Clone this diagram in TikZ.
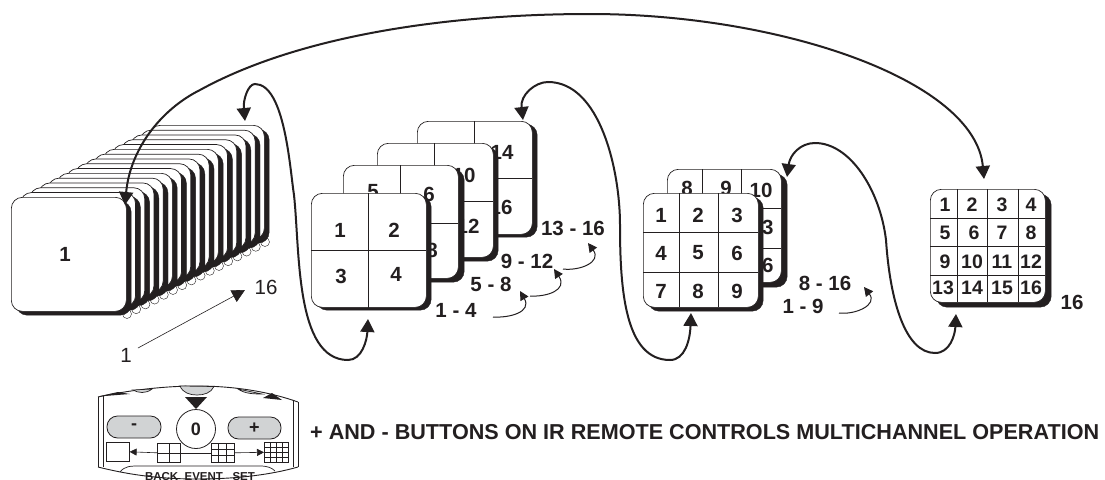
\documentclass[tikz,border=0pt]{standalone}
\usepackage{fontspec}
\setmainfont{Liberation Sans}
\usetikzlibrary{arrows.meta}
\definecolor{ink}{HTML}{231F20}
\definecolor{btn}{HTML}{D1D3D4}
\tikzset{
  cardface/.style={draw=ink,line width=.7pt,fill=white,rounded corners=11pt,inner sep=0pt,anchor=north west},
  cardshade/.style={draw=ink,fill=ink,line width=.4pt,rounded corners=11pt,inner sep=0pt,anchor=north west},
  grid line/.style={draw=ink,line width=.8pt},
  num/.style={font=\bfseries\fontsize{20.5}{24}\selectfont,text=ink,inner sep=0pt},
  smallnum/.style={font=\bfseries\fontsize{19.5}{22}\selectfont,text=ink,inner sep=0pt},
  plainnum/.style={font=\fontsize{20.5}{24}\selectfont,text=ink,inner sep=0pt},
  loopline/.style={draw=ink,line width=2pt,{Triangle[length=13pt,width=14pt]}-{Triangle[length=13pt,width=14pt]}},
  stepline/.style={draw=ink,line width=1pt,-{Triangle[length=9pt,width=9pt]}},
  scallop/.style={draw=ink,line width=.4pt,fill=white,circle,minimum size=9pt,inner sep=0pt},
  rbtn/.style={draw=ink,line width=.8pt,fill=btn,rounded corners=10.5pt,inner sep=0pt},
  rwin/.style={draw=ink,line width=.6pt,fill=white,inner sep=0pt,anchor=north west},
  rline/.style={draw=ink,line width=.7pt},
}
\newcommand{\Card}[7]{%
  \node[cardshade,minimum width=#4pt,minimum height=#5pt] (#1shade) at (#2+#6,#3+#7) {};
  \node[cardface,minimum width=#4pt,minimum height=#5pt] (#1) at (#2,#3) {};}
\begin{document}
\begin{tikzpicture}[x=1pt,y=-1pt]
\useasboundingbox (0,0) rectangle (1105,479);
\fill[white] (0,0) rectangle (1105,479);

% ---- stack of 16
\foreach \i in {15,14,...,0}{
  \pgfmathsetmacro\sx{11+9.2*\i}
  \pgfmathsetmacro\sy{197-4.8*\i}
  \node[scallop] (sc\i) at (\sx+116,\sy+117) {};
  \Card{st\i}{\sx}{\sy}{115}{114}{5}{4}
}
\node[num] (st1label) at (65,254) {1};

% ---- four-way cards
\Card{qd}{417}{121}{115}{113}{5}{3}
\draw[grid line] (474,121) -- (474,178) (474,178) -- (532,178);
\node[num] (n14) at (502,152) {14};
\node[num] (n16) at (501,207) {16};
\Card{qc}{377}{143}{116}{114}{5}{4}
\draw[grid line] (434,143) -- (434,201) (434,201) -- (493,201);
\node[num] (n10) at (464,175) {10};
\node[num] (n12) at (468,226) {12};
\Card{qb}{343}{165}{115}{113}{6}{4}
\draw[grid line] (400,165) -- (400,223) (400,223) -- (458,223);
\node[num] (n5) at (373,192) {5};
\node[num] (n6) at (429,194) {6};
\node[num] (n8) at (432,250) {8};
\Card{qa}{311}{193}{115}{114}{5}{3}
\draw[grid line] (368,193) -- (368,310) (311,250) -- (426,250);
\foreach \n/\x/\y in {1/340/230,2/394/230,3/341/276,4/396/274}
  \node[num] (qa\n) at (\x,\y) {\n};

% ---- nine-way cards
\Card{na}{667}{169}{114}{113}{6}{5}
\draw[grid line] (702,169) -- (702,195) (741,169) -- (741,195) (758,208) -- (781,208) (758,248) -- (781,248);
\node[num] (nb8) at (687,188) {8};
\node[num] (nb9) at (726,188) {9};
\node[num] (nb10) at (761,190) {10};
\node[num] (nb13) at (762,227) {13};
\node[num] (nb16) at (762,265) {16};
\Card{nf}{643}{193}{115}{114}{5}{4}
\draw[grid line] (679,193) -- (679,307) (718,193) -- (718,307) (643,232) -- (758,232) (643,272) -- (758,272);
\foreach \n/\x/\y in {1/661/215,2/698/215,3/737/215,4/661/253,5/698/253,6/737/253,7/661/291,8/698/291,9/737/291}
  \node[num] (nf\n) at (\x,\y) {\n};

% ---- sixteen-way card
\Card{hx}{930}{189}{115}{113}{6}{5}
\draw[grid line] (957,189) -- (957,302) (987,189) -- (987,302) (1018,189) -- (1018,302)
  (930,218) -- (1045,218) (930,246) -- (1045,246) (930,275) -- (1045,275);
\foreach \n/\x/\y in {1/945/205,2/972/205,3/1002/205,4/1031/205,5/945/233,6/974/233,7/1002/233,8/1031/233,
  9/945/262,10/972/262,11/1002/262,12/1031/262,13/943/288,14/972/288,15/1002/288,16/1031/288}
  \node[smallnum] (hx\n) at (\x,\y) {\n};

% ---- range labels
\node[num] (r14) at (456,310) {1 - 4};
\node[num] (r58) at (491,284) {5 - 8};
\node[num] (r912) at (527,261) {9 - 12};
\node[num] (r1316) at (573,228) {13 - 16};
\node[num] (r816) at (825,283) {8 - 16};
\node[num] (r19) at (803,306) {1 - 9};
\node[num] (r16) at (1072,302) {16};
\node[plainnum] (dep16) at (266,287) {16};
\node[plainnum] (dep1) at (126,355) {1};

% ---- depth arrow
\coordinate (depS) at (138,348);
\coordinate (depT) at (245,290);
\draw[draw=ink,line width=.6pt,-{Triangle[length=13pt,width=13pt]}] (depS) -- (depT);

% ---- looping connectors
\coordinate (bigA) at (125,205);
\coordinate (bigB) at (984,179);
\draw[loopline] (bigA) .. controls (130,150) and (160,110) .. (200,90)
  .. controls (300,35) and (450,14) .. (590,14)
  .. controls (780,14) and (975,80) .. (bigB);
\coordinate (l1A) at (245,121);
\coordinate (l1B) at (368,319);
\draw[loopline] (l1A) .. controls (243,100) and (248,84) .. (255,84)
  .. controls (285,84) and (290,170) .. (294,195)
  .. controls (300,250) and (295,360) .. (348,360)
  .. controls (362,360) and (367,340) .. (l1B);
\coordinate (l2A) at (523,120);
\coordinate (l2B) at (691,313);
\draw[loopline] (l2A) .. controls (520,95) and (535,82) .. (548,82)
  .. controls (600,82) and (620,170) .. (620,225)
  .. controls (620,290) and (625,360) .. (670,360)
  .. controls (685,360) and (690,340) .. (l2B);
\coordinate (l3A) at (787,177);
\coordinate (l3B) at (956,314);
\draw[loopline] (l3A) .. controls (790,155) and (800,143) .. (815,143)
  .. controls (850,143) and (880,190) .. (886,240)
  .. controls (890,300) and (905,353) .. (935,353)
  .. controls (950,353) and (955,335) .. (l3B);

% ---- small step arrows
\coordinate (s1a) at (493,317); \coordinate (s1b) at (520,291);
\draw[stepline] (s1a) .. controls (510,318) and (532,312) .. (s1b);
\coordinate (s2a) at (530,296); \coordinate (s2b) at (554,269);
\draw[stepline] (s2a) .. controls (547,297) and (568,290) .. (s2b);
\coordinate (s3a) at (563,269); \coordinate (s3b) at (588,243);
\draw[stepline] (s3a) .. controls (580,271) and (602,262) .. (s3b);
\coordinate (s4a) at (839,313); \coordinate (s4b) at (864,287);
\draw[stepline] (s4a) .. controls (855,315) and (878,305) .. (s4b);

% ---- remote
\draw[rline,line width=.9pt] (98,397) .. controls (130,390) and (165,386) .. (197,386)
  .. controls (235,386) and (270,392) .. (298,402);
\draw[rline,fill=btn] (180,386) .. controls (183,393) and (190,395) .. (197,395)
  .. controls (204,395) and (211,393) .. (214,386.5) -- cycle;
\draw[rline,fill=btn] (133,390) .. controls (138,393) and (146,394) .. (152,389) -- cycle;
\draw[rline,fill=btn] (238,389) .. controls (245,394) and (255,394) .. (262,394) -- cycle;
\fill[ink] (118,392) -- (98,396.5) -- (130,394) -- cycle;
\fill[ink] (263,398) -- (272,393) -- (282,400) -- cycle;
\draw[rline] (98,397) -- (98,467) (103,396) -- (103,467) (298,402) -- (298,467) (293,401) -- (293,467);
\draw[rline,line width=.9pt] (98,467) .. controls (130,475) and (160,479) .. (198,479)
  .. controls (235,479) and (270,475) .. (298,467);
\draw[rline] (120,472) .. controls (125,466) and (130,466) .. (140,466) -- (260,466)
  .. controls (268,466) and (272,468) .. (275,471);
\node[font=\bfseries\fontsize{11.5}{13}\selectfont,text=ink,inner sep=0pt,anchor=north] (rtext) at (200,472.5) {BACK\ \ EVENT\ \ \ SET};
\fill[ink] (185,397) -- (207,397) -- (196,409) -- cycle;
\node[draw=ink,line width=.8pt,fill=white,circle,minimum size=39pt,inner sep=0pt,font=\bfseries\fontsize{18}{20}\selectfont,text=ink] (zero) at (196,429) {0};
\node[rbtn,minimum width=54pt,minimum height=22pt,font=\bfseries\fontsize{18}{20}\selectfont,text=ink] (minusb) at (134,427) {-};
\node[rbtn,minimum width=53pt,minimum height=22pt,font=\bfseries\fontsize{18}{20}\selectfont,text=ink] (plusb) at (254.5,428) {+};
\node[rwin,minimum width=23pt,minimum height=19pt] (w1) at (106,442) {};
\node[rwin,minimum width=23pt,minimum height=19pt] (w2) at (157,443) {};
\node[rwin,minimum width=23pt,minimum height=19pt] (w3) at (211,443) {};
\node[rwin,minimum width=24pt,minimum height=20pt] (w4) at (264,442) {};
\draw[rline,line width=.5pt] (w2.north) -- (w2.south) (w2.west) -- (w2.east);
\draw[rline,line width=.5pt] (218.7,443) -- (218.7,462) (226.3,443) -- (226.3,462) (211,449.3) -- (234,449.3) (211,455.7) -- (234,455.7);
\draw[rline,line width=.5pt] (270,442) -- (270,462) (276,442) -- (276,462) (282,442) -- (282,462) (264,447) -- (288,447) (264,452) -- (288,452) (264,457) -- (288,457);
\draw[rline,line width=.6pt,-{Triangle[length=7pt,width=7pt]}] (w2.west) -- (w1.east);
\draw[rline,line width=.6pt] (w2.east) -- (w3.west);
\draw[rline,line width=.6pt,-{Triangle[length=7pt,width=7pt]}] (w3.east) -- (w4.west);
\node[font=\bfseries\fontsize{21.6}{26}\selectfont,text=ink,inner sep=0pt,anchor=west] (caption) at (310,432) {+ AND - BUTTONS ON IR REMOTE CONTROLS MULTICHANNEL OPERATION};
\end{tikzpicture}
\end{document}
